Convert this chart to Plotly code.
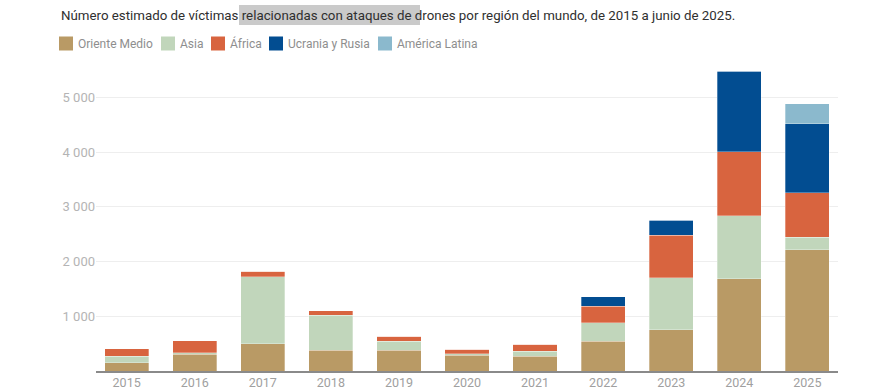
import plotly.graph_objects as go

years = ["2015", "2016", "2017", "2018", "2019", "2020", "2021", "2022", "2023", "2024", "2025"]
oriente_medio = [150, 305, 500, 378, 378, 287, 270, 543, 757, 1690, 2220]
asia = [120, 25, 1220, 640, 165, 30, 90, 340, 950, 1150, 225]
africa = [140, 225, 105, 80, 90, 80, 130, 300, 773, 1165, 815]
ucrania_rusia = [0, 0, 0, 0, 0, 0, 0, 177, 275, 1470, 1260]
america_latina = [0, 0, 0, 0, 0, 0, 0, 0, 0, 0, 365]

series_names = ["Oriente Medio", "Asia", "África", "Ucrania y Rusia", "América Latina"]
series_values = [oriente_medio, asia, africa, ucrania_rusia, america_latina]
series_colors = ["#b99a65", "#c1d6bb", "#d8643f", "#024d91", "#8bb9cd"]

y_ticks = [1000, 2000, 3000, 4000, 5000]
y_tick_labels = ["1 000", "2 000", "3 000", "4 000", "5 000"]

title_text = ("Número estimado de víctimas relacionadas con ataques de drones "
              "por región del mundo, de 2015 a junio de 2025.")

W, H = 878, 389
ML, MR, MT, MB = 96, 40, 70, 18
PW, PH = W - ML - MR, H - MT - MB


def px_x(x):
    return (x - ML) / PW


def px_y(y):
    return 1 - (y - MT) / PH


FONT = "Roboto, 'Open Sans', sans-serif"

fig = go.Figure()
for name, vals, color in zip(series_names, series_values, series_colors):
    fig.add_trace(go.Bar(
        x=years, y=vals, name=name,
        marker=dict(color=color, line=dict(color="rgba(255,255,255,0.6)", width=0.5)),
        hoverinfo="x+y+name",
    ))

fig.update_layout(
    width=W, height=H,
    barmode="stack", bargap=0.35,
    paper_bgcolor="white", plot_bgcolor="white",
    margin=dict(l=ML, r=MR, t=MT, b=MB),
    font=dict(family=FONT, size=12, color="#999999"),
    showlegend=False,
    xaxis=dict(
        type="category", range=[-0.45, 10.45], automargin=False,
        showgrid=False, ticks="", showline=True, linecolor="#8a8a8a", linewidth=2,
        tickfont=dict(size=12.5, color="#a0a0a0"), ticklabelstandoff=-1,
        fixedrange=True,
    ),
    yaxis=dict(
        range=[0, 5500], tickvals=y_ticks, ticktext=y_tick_labels, automargin=False,
        showgrid=True, gridcolor="#eeeeee", gridwidth=1, zeroline=False,
        ticks="", tickfont=dict(size=13, color="#b4b4b4"),
        fixedrange=True,
    ),
)

# selection-like highlight behind part of the title
fig.add_shape(type="rect", xref="paper", yref="paper",
              x0=px_x(239), x1=px_x(420), y0=px_y(25), y1=px_y(5),
              fillcolor="#cacaca", line=dict(width=0), layer="below")

fig.add_annotation(
    text=title_text, xref="paper", yref="paper",
    x=px_x(59), y=px_y(15.5), xanchor="left", yanchor="middle",
    showarrow=False, font=dict(size=13.3, color="#2f2f2f"),
)

# legend drawn as swatches + labels
legend_x = [59, 161, 211, 269, 378]
for name, color, lx in zip(series_names, series_colors, legend_x):
    fig.add_shape(type="rect", xref="paper", yref="paper",
                  x0=px_x(lx), x1=px_x(lx + 14), y0=px_y(50.5), y1=px_y(36.5),
                  fillcolor=color, line=dict(width=0))
    fig.add_annotation(
        text=name, xref="paper", yref="paper",
        x=px_x(lx + 17), y=px_y(43.5), xanchor="left", yanchor="middle",
        showarrow=False, font=dict(size=12, color="#8e8e8e"),
    )

fig.write_html("out.html", config={"displayModeBar": False},
               post_script="document.body.style.margin='0';")
